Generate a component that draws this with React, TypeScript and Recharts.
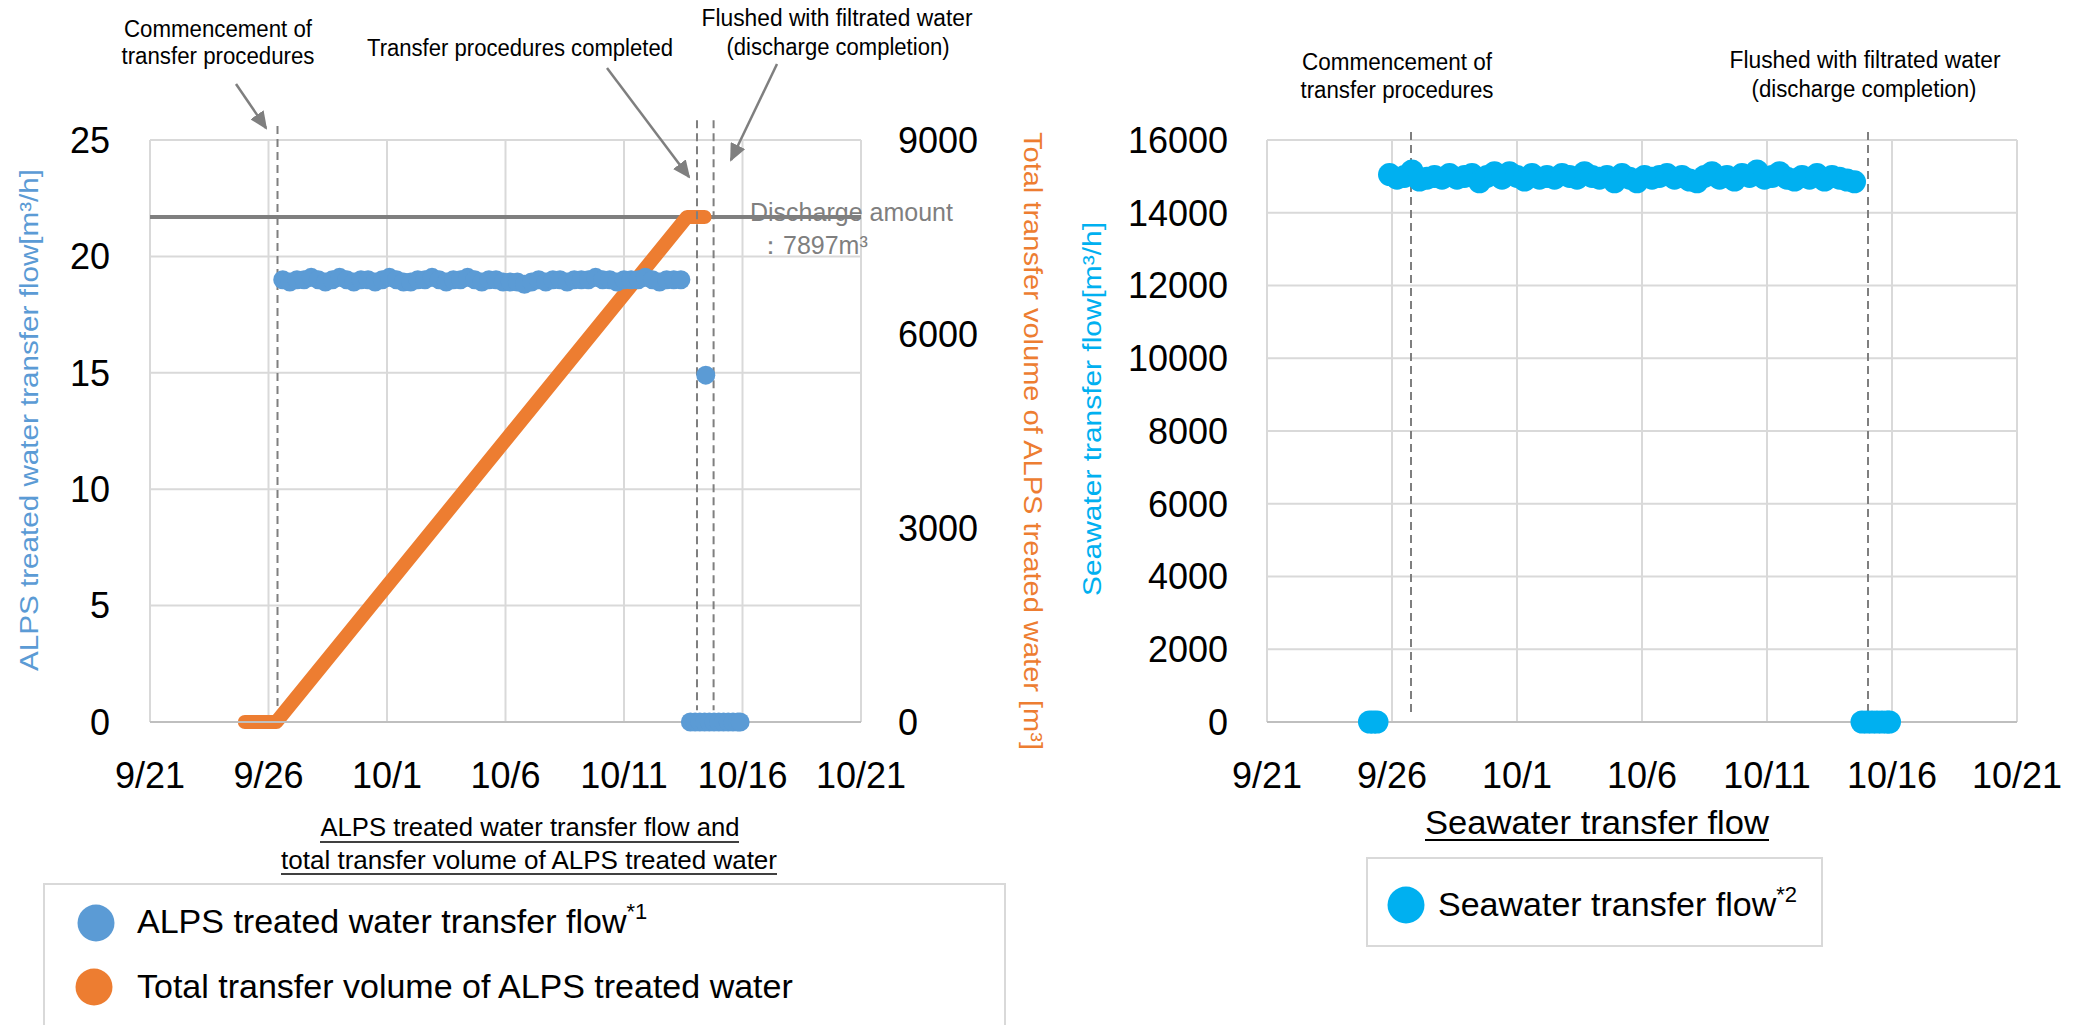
import React from 'react';
import { ComposedChart, Scatter, Line, XAxis, YAxis, CartesianGrid, ReferenceLine } from 'recharts';

// ---------- axes ----------
const dayTicks = [0, 5, 10, 15, 20, 25, 30];
const dayTickLabels = ['9/21', '9/26', '10/1', '10/6', '10/11', '10/16', '10/21'];
const flowTicks = [0, 5, 10, 15, 20, 25];
const volumeTicks = [0, 3000, 6000, 9000];
const seawaterTicks = [0, 2000, 4000, 6000, 8000, 10000, 12000, 14000, 16000];

// ---------- ALPS treated water transfer flow (days after 9/21, m3/h) ----------
const alpsFlowDays = [
  5.6, 5.9, 6.2, 6.5, 6.8, 7.1, 7.4, 7.7, 8.0, 8.3,
  8.6, 8.9, 9.2, 9.5, 9.8, 10.1, 10.4, 10.7, 11.0, 11.3,
  11.6, 11.9, 12.2, 12.5, 12.8, 13.1, 13.4, 13.7, 14.0, 14.3,
  14.6, 14.9, 15.2, 15.5, 15.8, 16.1, 16.4, 16.7, 17.0, 17.3,
  17.6, 17.9, 18.2, 18.5, 18.8, 19.1, 19.4, 19.7, 20.0, 20.3,
  20.6, 20.9, 21.2, 21.5, 21.8, 22.1, 22.4,
  22.8, 23.0, 23.2, 23.45, 23.4, 23.6, 23.8, 24.0, 24.2, 24.4, 24.6, 24.8, 24.9,
];
const alpsFlowValues = [
  19.0, 18.9, 19.0, 19.0, 19.1, 19.0, 18.9, 19.0, 19.1, 19.0,
  18.9, 19.0, 19.0, 18.9, 19.0, 19.1, 19.0, 18.9, 18.9, 19.0,
  19.0, 19.1, 19.0, 18.9, 19.0, 19.0, 19.1, 19.0, 18.9, 19.0,
  19.0, 18.9, 18.9, 18.9, 18.8, 18.9, 19.0, 18.9, 19.0, 19.0,
  18.9, 19.0, 19.0, 19.0, 19.1, 19.0, 19.0, 18.9, 19.0, 19.0,
  19.0, 19.1, 19.0, 18.9, 19.0, 19.0, 19.0,
  0, 0, 0, 14.9, 0, 0, 0, 0, 0, 0, 0, 0, 0,
];

// ---------- Total transfer volume of ALPS treated water (m3) ----------
const volumeDays = [4.0, 5.33, 22.66, 23.4];
const volumeValues = [0, 0, 7810, 7810];
const dischargeLevel = 7810;

// ---------- Seawater transfer flow (m3/h) ----------
const seawaterDays = [
  4.1, 4.25, 4.4,
  4.9, 5.2, 5.5, 5.8, 6.1, 6.4, 6.7, 7.0, 7.3, 7.6,
  7.9, 8.2, 8.5, 8.8, 9.1, 9.4, 9.7, 10.0, 10.3, 10.6,
  10.9, 11.2, 11.5, 11.8, 12.1, 12.4, 12.7, 13.0, 13.3, 13.6,
  13.9, 14.2, 14.5, 14.8, 15.1, 15.4, 15.7, 16.0, 16.3, 16.6,
  16.9, 17.2, 17.5, 17.8, 18.1, 18.4, 18.7, 19.0, 19.3, 19.6,
  19.9, 20.2, 20.5, 20.8, 21.1, 21.4, 21.7, 22.0, 22.3, 22.6,
  22.9, 23.2, 23.5,
  23.8, 24.0, 24.2, 24.4, 24.6, 24.8, 24.9,
];
const seawaterValues = [
  0, 0, 0,
  15050, 14950, 15000, 15150, 14900, 14950, 15000, 14950, 15050, 14950,
  15000, 15050, 14850, 15000, 15100, 14950, 15100, 15000, 14900, 15050,
  14950, 15000, 14950, 15050, 15000, 14950, 15100, 15000, 14950, 15000,
  14850, 15050, 14950, 14850, 15000, 14950, 15000, 15050, 14950, 15000,
  14900, 14850, 15000, 15100, 14950, 15000, 14900, 15050, 15000, 15150,
  14950, 15000, 15100, 14950, 14900, 15000, 14950, 15050, 14900, 15000,
  14950, 14900, 14850,
  0, 0, 0, 0, 0, 0, 0,
];

// ---------- event markers ----------
const leftEventDays = [5.38, 23.08, 23.78];
const leftEventTops = [25.6, 25.85, 25.85];
const rightEventDays = [5.76, 24.04];

const alpsFlowData = alpsFlowDays.map((d, i) => ({ day: d, flow: alpsFlowValues[i] }));
const volumeData = volumeDays.map((d, i) => ({ day: d, volume: volumeValues[i] }));
const seawaterData = seawaterDays.map((d, i) => ({ day: d, flow: seawaterValues[i] }));

const FONT = '"Liberation Sans", Arial, Helvetica, sans-serif';
const BLUE = '#5B9BD5';
const ORANGE = '#ED7D31';
const CYAN = '#00B0F0';
const GRAY = '#7F7F7F';

const fmtDay = (v: number) => dayTickLabels[dayTicks.indexOf(v)] ?? '';
const tickStyle = { fontSize: 36, fill: '#000', fontFamily: FONT };

const dotShape = (color: string, r: number) => (props: any) => (
  <circle cx={props.cx} cy={props.cy} r={r} fill={color} />
);

const Arrow = ({ x1, y1, x2, y2 }: { x1: number; y1: number; x2: number; y2: number }) => (
  <line x1={x1} y1={y1} x2={x2} y2={y2} stroke={GRAY} strokeWidth={2.5} markerEnd="url(#arrowHead)" />
);

export default function App() {
  return (
    <div style={{ position: 'absolute', left: 0, top: 0, width: 2073, height: 1025, background: '#fff', overflow: 'hidden' }}>
      <div style={{ position: 'absolute', left: 0, top: 0 }}>
        <ComposedChart width={1060} height={1025} margin={{ top: 140, right: 99, bottom: 243, left: 70 }}>
          <CartesianGrid yAxisId="left" stroke="#D9D9D9" strokeWidth={2} />
          <XAxis
            dataKey="day"
            type="number"
            domain={[0, 30]}
            ticks={dayTicks}
            interval={0}
            allowDataOverflow
            tickFormatter={fmtDay}
            height={60}
            tickSize={0}
            tickMargin={40}
            tickLine={false}
            axisLine={{ stroke: '#BFBFBF', strokeWidth: 2 }}
            tick={tickStyle}
          />
          <YAxis
            yAxisId="left"
            domain={[0, 25]}
            ticks={flowTicks}
            interval={0}
            width={80}
            tickSize={0}
            tickMargin={40}
            axisLine={false}
            tickLine={false}
            tick={tickStyle}
          />
          <YAxis
            yAxisId="right"
            orientation="right"
            domain={[0, 9000]}
            ticks={volumeTicks}
            interval={0}
            width={100}
            tickSize={0}
            tickMargin={37}
            axisLine={false}
            tickLine={false}
            tick={{ ...tickStyle, textAnchor: 'start' }}
          />
          <ReferenceLine yAxisId="right" y={dischargeLevel} stroke="#7F7F7F" strokeWidth={4} />
          <Scatter
            yAxisId="left"
            data={alpsFlowData}
            dataKey="flow"
            fill={BLUE}
            shape={dotShape(BLUE, 9.5)}
            isAnimationActive={false}
          />
          <Line
            yAxisId="right"
            data={volumeData}
            dataKey="volume"
            type="linear"
            stroke={ORANGE}
            strokeWidth={14}
            strokeLinecap="round"
            strokeLinejoin="round"
            dot={false}
            activeDot={false}
            isAnimationActive={false}
          />
          {leftEventDays.map((d, i) => (
            <ReferenceLine
              key={'le' + i}
              yAxisId="left"
              segment={[{ x: d, y: leftEventTops[i] }, { x: d, y: 0.5 }]}
              ifOverflow="visible"
              stroke={GRAY}
              strokeWidth={2}
              strokeDasharray="8 5"
            />
          ))}
        </ComposedChart>
      </div>

      <div style={{ position: 'absolute', left: 1060, top: 0 }}>
        <ComposedChart width={1013} height={1025} margin={{ top: 140, right: 56, bottom: 243, left: 107 }}>
          <CartesianGrid yAxisId="sea" stroke="#D9D9D9" strokeWidth={2} />
          <XAxis
            dataKey="day"
            type="number"
            domain={[0, 30]}
            ticks={dayTicks}
            interval={0}
            allowDataOverflow
            tickFormatter={fmtDay}
            height={60}
            tickSize={0}
            tickMargin={40}
            tickLine={false}
            axisLine={{ stroke: '#BFBFBF', strokeWidth: 2 }}
            tick={tickStyle}
          />
          <YAxis
            yAxisId="sea"
            domain={[0, 16000]}
            ticks={seawaterTicks}
            interval={0}
            width={100}
            tickSize={0}
            tickMargin={39}
            axisLine={false}
            tickLine={false}
            tick={tickStyle}
          />
          <Scatter
            yAxisId="sea"
            data={seawaterData}
            dataKey="flow"
            fill={CYAN}
            shape={dotShape(CYAN, 11.5)}
            isAnimationActive={false}
          />
          {rightEventDays.map((d, i) => (
            <ReferenceLine
              key={'re' + i}
              yAxisId="sea"
              segment={[{ x: d, y: 16220 }, { x: d, y: 190 }]}
              ifOverflow="visible"
              stroke={GRAY}
              strokeWidth={2}
              strokeDasharray="8 5"
            />
          ))}
        </ComposedChart>
      </div>

      <svg width={2073} height={1025} style={{ position: 'absolute', left: 0, top: 0, pointerEvents: 'none' }} fontFamily={FONT}>
        <defs>
          <marker id="arrowHead" markerUnits="userSpaceOnUse" markerWidth={18} markerHeight={16} refX={16} refY={8} orient="auto">
            <path d="M0,0 L18,8 L0,16 z" fill={GRAY} />
          </marker>
        </defs>

        {/* left chart annotations */}
        <text x={218} y={37} fontSize={23} textAnchor="middle" textLength={188} lengthAdjust="spacingAndGlyphs">Commencement of</text>
        <text x={218} y={64} fontSize={23} textAnchor="middle" textLength={193} lengthAdjust="spacingAndGlyphs">transfer procedures</text>
        <text x={520} y={56} fontSize={23} textAnchor="middle" textLength={306} lengthAdjust="spacingAndGlyphs">Transfer procedures completed</text>
        <text x={837} y={26} fontSize={23} textAnchor="middle" textLength={271} lengthAdjust="spacingAndGlyphs">Flushed with filtrated water</text>
        <text x={838} y={55} fontSize={23} textAnchor="middle" textLength={223} lengthAdjust="spacingAndGlyphs">(discharge completion)</text>
        <Arrow x1={236} y1={84} x2={266} y2={128} />
        <Arrow x1={607} y1={68} x2={689} y2={177} />
        <Arrow x1={777} y1={64} x2={731} y2={160} />

        <text x={750} y={221} fontSize={25} fill={GRAY}>Discharge amount</text>
        <text x={758} y={254} fontSize={25} fill={GRAY}>：7897m³</text>

        {/* right chart annotations */}
        <text x={1397} y={70} fontSize={23} textAnchor="middle" textLength={190} lengthAdjust="spacingAndGlyphs">Commencement of</text>
        <text x={1397} y={98} fontSize={23} textAnchor="middle" textLength={193} lengthAdjust="spacingAndGlyphs">transfer procedures</text>
        <text x={1865} y={68} fontSize={23} textAnchor="middle" textLength={271} lengthAdjust="spacingAndGlyphs">Flushed with filtrated water</text>
        <text x={1864} y={97} fontSize={23} textAnchor="middle" textLength={225} lengthAdjust="spacingAndGlyphs">(discharge completion)</text>

        {/* axis titles */}
        <text transform="translate(29,420) rotate(-90)" fontSize={26} fill={BLUE} textAnchor="middle" dominantBaseline="central" textLength={502} lengthAdjust="spacingAndGlyphs">ALPS treated water transfer flow[m³/h]</text>
        <text transform="translate(1033,441) rotate(90)" fontSize={26} fill={ORANGE} textAnchor="middle" dominantBaseline="central" textLength={618} lengthAdjust="spacingAndGlyphs">Total transfer volume of ALPS treated water [m³]</text>
        <text transform="translate(1092,409) rotate(-90)" fontSize={26} fill={CYAN} textAnchor="middle" dominantBaseline="central" textLength={374} lengthAdjust="spacingAndGlyphs">Seawater transfer flow[m³/h]</text>

        {/* subtitles */}
        <text x={530} y={836} fontSize={26} textAnchor="middle" textLength={419} lengthAdjust="spacingAndGlyphs">ALPS treated water transfer flow and</text>
        <line x1={320} y1={842} x2={739} y2={842} stroke="#000" strokeWidth={1.5} />
        <text x={529} y={869} fontSize={26} textAnchor="middle" textLength={496} lengthAdjust="spacingAndGlyphs">total transfer volume of ALPS treated water</text>
        <line x1={281} y1={874} x2={777} y2={874} stroke="#000" strokeWidth={1.5} />
        <text x={1597} y={834} fontSize={33} textAnchor="middle" textLength={344} lengthAdjust="spacingAndGlyphs">Seawater transfer flow</text>
        <line x1={1425} y1={840} x2={1769} y2={840} stroke="#000" strokeWidth={2} />

        {/* legends */}
        <rect x={44} y={884} width={961} height={160} fill="none" stroke="#D9D9D9" strokeWidth={2} />
        <circle cx={96} cy={923} r={18.5} fill={BLUE} />
        <text x={137} y={933} fontSize={34}>
          ALPS treated water transfer flow<tspan dy={-14} fontSize={22}>*1</tspan>
        </text>
        <circle cx={94} cy={987} r={18.5} fill={ORANGE} />
        <text x={137} y={998} fontSize={34}>Total transfer volume of ALPS treated water</text>

        <rect x={1367} y={858} width={455} height={88} fill="none" stroke="#D9D9D9" strokeWidth={2} />
        <circle cx={1406} cy={905} r={18.5} fill={CYAN} />
        <text x={1438} y={916} fontSize={34}>
          Seawater transfer flow<tspan dy={-14} fontSize={22}>*2</tspan>
        </text>
      </svg>
    </div>
  );
}
